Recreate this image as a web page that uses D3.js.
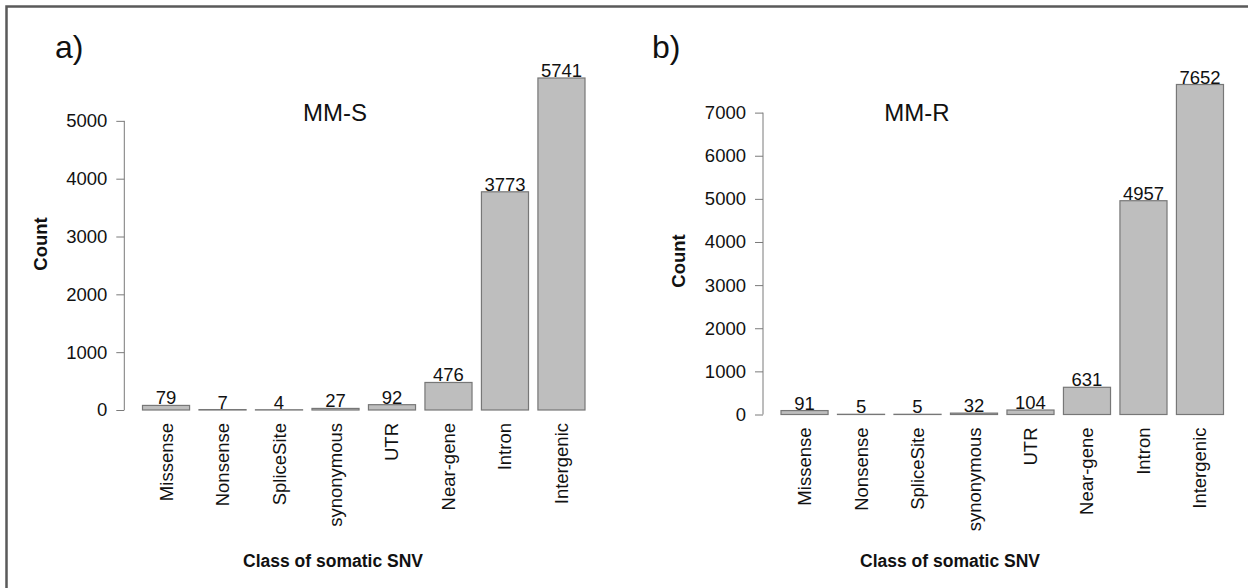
<!DOCTYPE html>
<html>
<head>
<meta charset="utf-8">
<script src="https://cdn.jsdelivr.net/npm/d3@7/dist/d3.min.js"></script>
<style>
  html, body { margin: 0; padding: 0; background: #fff; }
  svg { display: block; font-family: "Liberation Sans", Arial, sans-serif; }
  .tick text { fill: #111; }
</style>
</head>
<body>
<svg id="chart" width="1248" height="588"></svg>
<script>
// categories shared by both panels
const categories = ['Missense', 'Nonsense', 'SpliceSite', 'synonymous', 'UTR', 'Near-gene', 'Intron', 'Intergenic'];
// counts per class, MM-S (panel a) and MM-R (panel b)
const countsS = [79, 7, 4, 27, 92, 476, 3773, 5741];
const countsR = [91, 5, 5, 32, 104, 631, 4957, 7652];
// y tick values
const ticksS = [0, 1000, 2000, 3000, 4000, 5000];
const ticksR = [0, 1000, 2000, 3000, 4000, 5000, 6000, 7000];

const svg = d3.select('#chart');

// frame (only top and left edges are visible in the crop)
svg.append('path')
  .attr('d', 'M6.5,588 L6.5,6.5 L1248,6.5')
  .attr('fill', 'none')
  .attr('stroke', '#5a5a5a')
  .attr('stroke-width', 2.5);

const panels = [
  { tag: 'a)', title: 'MM-S', values: countsS, ticks: ticksS,
    tagX: 55, titleX: 335, axisX: 124.3, barL: 142.5, barR: 585,
    y0: 410, yTop: 78, countX: 40, countY: 244, labTop: 423, xlabX: 333 },
  { tag: 'b)', title: 'MM-R', values: countsR, ticks: ticksR,
    tagX: 652, titleX: 917, axisX: 763, barL: 781, barR: 1223.5,
    y0: 414.5, yTop: 84.5, countX: 678, countY: 261, labTop: 427.5, xlabX: 950 }
];

panels.forEach(p => {
  const g = svg.append('g');
  const maxV = d3.max(p.values);

  const x = d3.scaleBand()
    .domain(categories)
    .range([p.barL, p.barR])
    .paddingInner(1 / 6)
    .paddingOuter(0);

  const y = d3.scaleLinear()
    .domain([0, maxV])
    .range([p.y0, p.yTop]);

  // y axis, R style: line only from first to last tick
  const ax = g.append('g')
    .attr('transform', `translate(${p.axisX},0)`)
    .call(d3.axisLeft(y).tickValues(p.ticks).tickFormat(d3.format('d'))
      .tickSize(8).tickPadding(9).tickSizeOuter(0));
  ax.select('.domain').remove();
  ax.append('line')
    .attr('y1', y(0)).attr('y2', y(d3.max(p.ticks)))
    .attr('stroke', '#7a7a7a');
  ax.selectAll('.tick line').attr('stroke', '#7a7a7a');
  ax.selectAll('.tick text').style('font-size', '18.5px');

  // bars
  const data = categories.map((c, i) => ({ c, v: p.values[i] }));
  g.selectAll('rect.bar')
    .data(data)
    .join('rect')
    .attr('class', 'bar')
    .attr('x', d => x(d.c))
    .attr('width', x.bandwidth())
    .attr('y', d => y(d.v))
    .attr('height', d => p.y0 - y(d.v))
    .attr('fill', '#bebebe')
    .attr('stroke', '#777')
    .attr('stroke-width', 1.2);

  // value labels above bars
  g.selectAll('text.val')
    .data(data)
    .join('text')
    .attr('class', 'val')
    .attr('x', d => x(d.c) + x.bandwidth() / 2)
    .attr('y', d => y(d.v) - 1)
    .attr('text-anchor', 'middle')
    .style('font-size', '18.5px')
    .style('fill', '#111')
    .text(d => d.v);

  // rotated category labels
  g.selectAll('text.cat')
    .data(categories)
    .join('text')
    .attr('class', 'cat')
    .attr('transform', c => `translate(${x(c) + x.bandwidth() / 2 + 6.5},${p.labTop}) rotate(-90)`)
    .attr('text-anchor', 'end')
    .style('font-size', '18.5px')
    .style('fill', '#111')
    .text(c => c);

  // axis titles
  g.append('text')
    .attr('transform', `translate(${p.countX + 6.5},${p.countY}) rotate(-90)`)
    .attr('text-anchor', 'middle')
    .style('font-size', '18.5px')
    .style('font-weight', 'bold')
    .style('fill', '#111')
    .text('Count');

  g.append('text')
    .attr('x', p.xlabX).attr('y', 567)
    .attr('text-anchor', 'middle')
    .style('font-size', '17.5px')
    .style('font-weight', 'bold')
    .style('fill', '#111')
    .text('Class of somatic SNV');

  // panel title and tag
  g.append('text')
    .attr('x', p.titleX).attr('y', 121)
    .attr('text-anchor', 'middle')
    .style('font-size', '24px')
    .style('fill', '#111')
    .text(p.title);

  g.append('text')
    .attr('x', p.tagX).attr('y', 58)
    .style('font-size', '32px')
    .style('fill', '#111')
    .text(p.tag);
});
</script>
</body>
</html>
